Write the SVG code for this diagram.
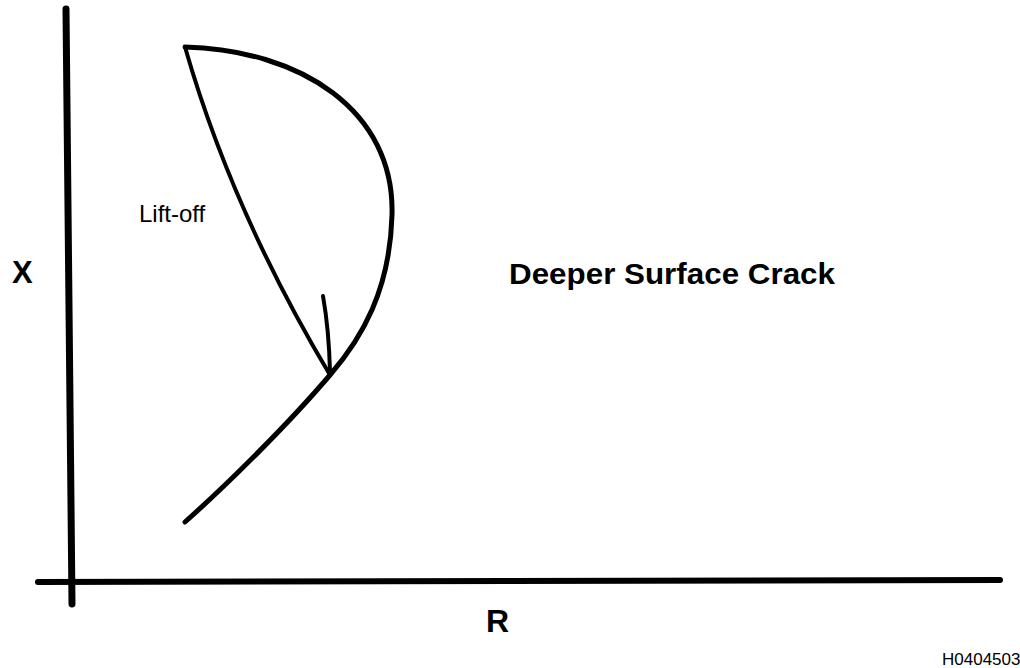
<svg xmlns="http://www.w3.org/2000/svg" width="1020" height="668" viewBox="0 0 1020 668">
<style>
.ln{fill:none;stroke:#000;stroke-linecap:round}
.b{font-family:"Liberation Sans",Arial,sans-serif;font-weight:bold;fill:#000}
.n{font-family:"Liberation Sans",Arial,sans-serif;fill:#000}
</style>
<rect width="1020" height="668" fill="#fff"/>
<g id="axes">
<line class="ln" x1="66" y1="9" x2="72" y2="604" stroke-width="7" stroke-linecap="butt"/>
<line class="ln" x1="38" y1="582" x2="1000" y2="580" stroke-width="6" stroke-linecap="butt"/>
</g>
<g id="connectors">
<path class="ln" stroke-width="5" d="M185,47 C300,50 395,110 392,215 C390,290 362,338 330,375 C290,422 230,482 185,522"/>
<path class="ln" stroke-width="4" d="M185,47 Q232,211 330,375"/>
<path class="ln" stroke-width="4" d="M323,296 Q329,330 330,372"/>
</g>
<g id="labels">
<text class="b" x="12" y="283" font-size="31">X</text>
<text class="n" x="139" y="222" font-size="24">Lift-off</text>
<text class="b" x="509" y="284" font-size="30" textLength="326" lengthAdjust="spacingAndGlyphs">Deeper Surface Crack</text>
<text class="b" x="486" y="632" font-size="32">R</text>
<text class="n" x="942" y="665" font-size="17">H0404503</text>
</g>
</svg>
